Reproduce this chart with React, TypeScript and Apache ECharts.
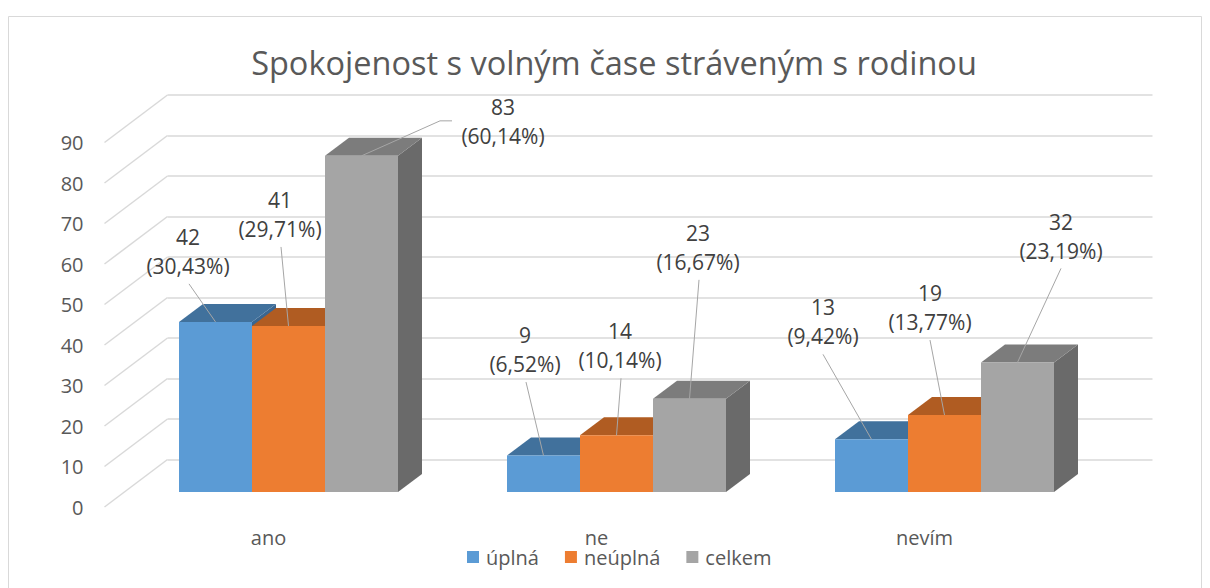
import React, { useEffect, useRef } from "react";
import * as echarts from "echarts";

// ---- data ----
const categories = ["ano", "ne", "nevím"];
const seriesNames = ["úplná", "neúplná", "celkem"];
const uplna = [42, 9, 13];
const neuplna = [41, 14, 19];
const celkem = [83, 23, 32];
const uplnaPct = [30.43, 6.52, 9.42];
const neuplnaPct = [29.71, 10.14, 13.77];
const celkemPct = [60.14, 16.67, 23.19];
const yMin = 0;
const yMax = 90;
const yInterval = 10;
const yTicks = [0, 10, 20, 30, 40, 50, 60, 70, 80, 90];

// ---- layout / style constants ----
const FONT = "'Open Sans', sans-serif";
const BACK_DX = 63; // label plane -> back wall
const BACK_DY = -47.5;
const FRONT_DX = 20; // label plane -> bar front plane
const FRONT_DY = -15;
const BAR_DX = 24; // bar depth
const BAR_DY = -18;
const BAR_FRAC = 73 / 328;

const COLORS = [
  { front: "#5b9bd5", top: "#41719c", side: "#3a6690" },
  { front: "#ed7d31", top: "#b05c22", side: "#9c5120" },
  { front: "#a5a5a5", top: "#7c7c7c", side: "#6a6a6a" },
];

// label block (first line centre) offsets relative to bar front-top centre
const LABEL_OFF = [
  [[-27.5, -85], [-18.5, -120.5], [-48.5, -132]],
  [[-8.5, -126], [3.5, -104], [-14.5, -122]],
  [[141.5, -49], [8.5, -166], [43.5, -140]],
];
// leader line start points relative to bar front-top centre (optional elbow)
const LEADER_START = [
  [[[-26.5, -38]], [[-17.5, -73.5]], [[-48.5, -85]]],
  [[[-7.5, -79]], [[4.5, -57]], [[-14.5, -75]]],
  [[[90.5, -35], [78.5, -35]], [[9.5, -119]], [[43.5, -94]]],
];

const fmtPct = (p: number) => p.toFixed(2).replace(".", ",") + "%";

function barRender(si: number) {
  return (params: any, api: any) => {
    const c = api.value(0);
    const v = api.value(1);
    const pct = api.value(2);
    const p0 = api.coord([c, 0]);
    const p1 = api.coord([c, v]);
    const band = api.size([1, 0])[0];
    const bw = band * BAR_FRAC;
    const cx = p0[0] + FRONT_DX + (si - 1) * bw;
    const x0 = cx - bw / 2;
    const x1 = cx + bw / 2;
    const yb = p0[1] + FRONT_DY;
    const yt = p1[1] + FRONT_DY;
    const col = COLORS[si];
    const lo = LABEL_OFF[si][c];
    const ls = LEADER_START[si][c];
    const pts = ls.map((p: number[]) => [cx + p[0], yt + p[1]]);
    pts.push([cx, yt]);
    return {
      type: "group",
      children: [
        {
          type: "polygon",
          shape: { points: [[x1, yt], [x1 + BAR_DX, yt + BAR_DY], [x1 + BAR_DX, yb + BAR_DY], [x1, yb]] },
          style: { fill: col.side },
        },
        {
          type: "polygon",
          shape: { points: [[x0, yt], [x1, yt], [x1 + BAR_DX, yt + BAR_DY], [x0 + BAR_DX, yt + BAR_DY]] },
          style: { fill: col.top },
        },
        {
          type: "rect",
          shape: { x: x0, y: yt, width: bw, height: yb - yt },
          style: { fill: col.front },
        },
        {
          type: "polyline",
          shape: { points: pts },
          style: { stroke: "#a6a6a6", lineWidth: 1, fill: null },
          z2: 100,
        },
        {
          type: "text",
          x: cx + lo[0],
          y: yt + lo[1] + 14.5,
          style: {
            text: `${v}\n(${fmtPct(pct)})`,
            fill: "#404040",
            fontSize: 21,
            fontFamily: FONT,
            align: "center",
            verticalAlign: "middle",
            lineHeight: 29,
          },
          z2: 101,
        },
      ],
    };
  };
}

export default function App() {
  const ref = useRef<HTMLDivElement>(null);
  useEffect(() => {
    if (!ref.current) return;
    const chart = echarts.init(ref.current, null, { renderer: "svg" });
    const vals = [uplna, neuplna, celkem];
    const pcts = [uplnaPct, neuplnaPct, celkemPct];
    const barSeries = seriesNames.map((name, si) => ({
      name,
      type: "custom",
      xAxisIndex: 0,
      yAxisIndex: 0,
      itemStyle: { color: COLORS[si].front },
      renderItem: barRender(si),
      data: categories.map((_, ci) => [ci, vals[si][ci], pcts[si][ci]]),
      z: 3,
    }));
    chart.setOption({
      animation: false,
      backgroundColor: "#ffffff",
      title: {
        text: "Spokojenost s volným čase stráveným s rodinou",
        left: 614,
        top: 43,
        textAlign: "center",
        padding: 0,
        textStyle: { fontSize: 32.5, fontWeight: "normal", color: "#595959", fontFamily: FONT, lineHeight: 38 },
      },
      legend: {
        data: seriesNames,
        left: 467,
        top: 545,
        padding: 0,
        icon: "rect",
        itemWidth: 12,
        itemHeight: 12,
        itemGap: 26,
        textStyle: { fontSize: 20, color: "#595959", fontFamily: FONT, lineHeight: 24, padding: [0, 0, 0, 2] },
      },
      graphic: [
        {
          type: "rect",
          shape: { x: 8.5, y: 16.5, width: 1193, height: 600 },
          style: { fill: "none", stroke: "#d9d9d9", lineWidth: 1 },
          silent: true,
          z: -1,
        },
      ],
      grid: [
        { left: 104.5, top: 142.5, width: 984, height: 364.5 },
        { left: 104.5 + BACK_DX, top: 142.5 + BACK_DY, width: 985, height: 364.5 },
      ],
      xAxis: [
        {
          gridIndex: 0,
          type: "category",
          data: categories,
          axisLine: { show: false },
          axisTick: { show: false },
          splitLine: { show: false },
          axisLabel: { fontSize: 20, color: "#595959", fontFamily: FONT, margin: 18, lineHeight: 24 },
        },
        { gridIndex: 1, type: "category", data: categories, show: false },
      ],
      yAxis: [
        {
          gridIndex: 0,
          type: "value",
          min: yMin,
          max: yMax,
          interval: yInterval,
          axisLine: { show: false },
          axisTick: { show: false },
          splitLine: { show: false },
          axisLabel: { fontSize: 20, color: "#595959", fontFamily: FONT, margin: 21 },
        },
        {
          gridIndex: 1,
          type: "value",
          min: yMin,
          max: yMax,
          interval: yInterval,
          axisLine: { show: false },
          axisTick: { show: false },
          axisLabel: { show: false },
          splitLine: { show: true, lineStyle: { color: "#d9d9d9", width: 1.5 } },
        },
      ],
      series: [
        {
          name: "diagonals",
          type: "custom",
          xAxisIndex: 0,
          yAxisIndex: 0,
          silent: true,
          z: 1,
          data: yTicks.map((t) => [0, t]),
          renderItem: (params: any, api: any) => {
            const y = api.coord([0, api.value(1)])[1];
            const x = params.coordSys.x;
            return {
              type: "line",
              shape: { x1: x, y1: y, x2: x + BACK_DX, y2: y + BACK_DY },
              style: { stroke: "#d9d9d9", lineWidth: 1.5 },
            };
          },
        },
        ...barSeries,
      ],
    });
    return () => chart.dispose();
  }, []);
  return (
    <div
      ref={ref}
      style={{ position: "absolute", left: 0, top: 0, width: 1210, height: 588 }}
    />
  );
}
